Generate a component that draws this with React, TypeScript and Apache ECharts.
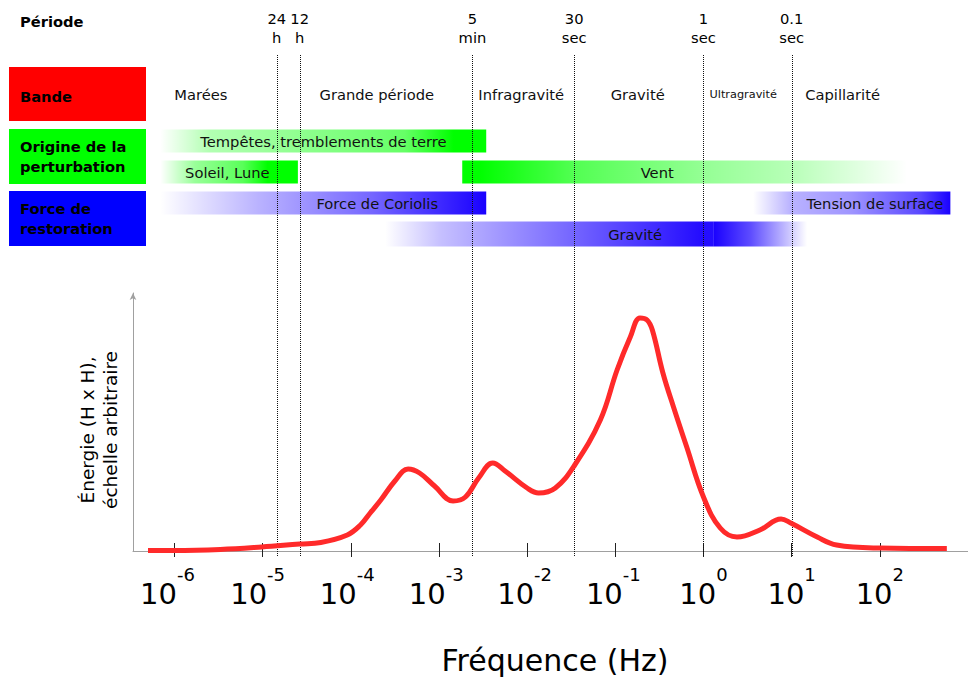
import React, { useEffect, useRef } from "react";
import * as echarts from "echarts";

const FONT = "DejaVu Sans";
const FS = 14.7;

// ---------- data (frequency given as log10 of Hz) ----------
const freqLog = [-6.30, -6.01, -5.48, -5.01, -4.58, -4.34, -4.04, -3.89, -3.78, -3.66, -3.50, -3.35, -3.22, -3.05, -2.84, -2.70, -2.55, -2.39, -2.25, -2.00, -1.87, -1.68, -1.46, -1.17, -0.98, -0.83, -0.72, -0.64, -0.58, -0.46, -0.34, -0.19, 0, 0.19, 0.38, 0.64, 0.88, 0.99, 1.29, 1.51, 2.0, 2.76];
const energy = [0.5, 0.5, 1.5, 4, 7, 8.5, 16, 26, 38, 51, 70, 82, 78, 65, 50, 54, 73, 88, 80, 63, 58, 63, 86, 131, 181, 214, 233, 231, 221, 178, 144, 104, 54, 23, 14, 21, 32, 28, 14, 6, 3, 2.5];

const xTickExponents = [-6, -5, -4, -3, -2, -1, 0, 1, 2];

const periodLabels = ["24\nh", "12\nh", "5\nmin", "30\nsec", "1\nsec", "0.1\nsec"];
const periodLog = [-4.84, -4.58, -2.62, -1.466, 0, 1.0];

const bandNames = ["Marées", "Grande période", "Infragravité", "Gravité", "Ultragravité", "Capillarité"];
const bandCenterLog = [-5.70, -3.705, -2.067, -0.746, 0.45, 1.578];

const barNames = ["Tempêtes, tremblements de terre", "Soleil, Lune", "Vent", "Force de Coriolis", "Tension de surface", "Gravité", ""];
const barStartLog = [-6.16, -6.16, -2.736, -6.16, 0.563, -3.61, 0.11];
const barEndLog = [-2.464, -4.60, 2.31, -2.464, 2.80, 0.11, 1.175];
const barRow = [1, 2, 2, 3, 3, 4, 4];
const barLabelLog = [-4.31, -5.40, -0.525, -3.70, 1.945, -0.775, 0];

const sectionTitles = ["Bande", "Origine de la\nperturbation", "Force de\nrestoration"];

const xName = "Fréquence (Hz)";
const yName = "Énergie (H x H),\néchelle arbitraire";

// ---------- styles ----------
const X_MIN = -6.47;
const X_MAX = 3;
// leftward nudge (px) of each tick label, as in the original drawing
const tickLabelNudge = [7, 5, 3.5, 2.7, 2.5, 2, 0, 0, 0];
const GREEN = "0,255,0";
const BLUE = "25,0,255";
const barStyles = [
  { rgb: GREEN, stops: [[0, 0], [0.15, 0.3], [0.45, 0.45], [0.75, 0.6], [0.9, 1], [1, 1]] },
  { rgb: GREEN, stops: [[0, 0], [0.25, 0.4], [0.6, 0.65], [0.78, 1], [1, 1]] },
  { rgb: GREEN, stops: [[0, 1], [0.04, 1], [0.25, 0.68], [0.54, 0.42], [0.74, 0.28], [0.89, 0.12], [1, 0]] },
  { rgb: BLUE, stops: [[0, 0], [0.3, 0.3], [0.65, 0.6], [1, 1]] },
  { rgb: BLUE, stops: [[0, 0], [0.19, 0.3], [0.5, 0.42], [0.85, 0.72], [1, 1]] },
  { rgb: BLUE, stops: [[0, 0], [0.17, 0.25], [0.57, 0.6], [0.96, 0.95], [1, 0.95]] },
  { rgb: BLUE, stops: [[0, 1], [0.4, 0.7], [1, 0]] },
];
const sectionColors = ["#ff0000", "#00ff00", "#0000ff"];
const sectionBoxes = [
  { y: 67, h: 54, ty: 96 },
  { y: 129, h: 55, ty: 156.5 },
  { y: 191, h: 55, ty: 218.5 },
];

function textStyle(extra: any) {
  return Object.assign(
    { fontFamily: FONT, fill: "#000", align: "center", verticalAlign: "middle", textAlign: "center", textVerticalAlign: "middle" },
    extra
  );
}

export default function App() {
  const ref = useRef<HTMLDivElement>(null);
  useEffect(() => {
    const chart = echarts.init(ref.current as HTMLDivElement, null, { renderer: "svg" });

    const rich: any = {
      b: { fontSize: 29, fontFamily: FONT, color: "#000", padding: [14, 0, 0, 0] },
      s: { fontSize: 18, fontFamily: FONT, color: "#000", verticalAlign: "top" },
    };
    xTickExponents.forEach((e, i) => {
      rich["g" + i] = { width: Math.max(0.01, 2 * tickLabelNudge[i]), fontSize: 1, verticalAlign: "top" };
    });

    const option: any = {
      animation: false,
      backgroundColor: "#ffffff",
      grid: [
        { left: 133, right: 0, top: 293, bottom: 126, outerBoundsMode: "none" },
        { left: 133, right: 0, top: 63.5, height: 186, outerBoundsMode: "none" },
      ],
      xAxis: [
        {
          type: "value",
          gridIndex: 0,
          min: X_MIN,
          max: X_MAX,
          position: "bottom",
          axisLine: { show: true, onZero: false, lineStyle: { color: "#a0a0a0", width: 1 } },
          axisTick: { show: true, customValues: xTickExponents, length: 6, lineStyle: { color: "#222", width: 1 } },
          axisLabel: {
            show: true,
            customValues: xTickExponents,
            margin: 14,
            formatter: (v: number) => {
              const i = xTickExponents.indexOf(Math.round(v));
              return tickLabelNudge[i] > 0 ? `{b|10}{s|${v}}{g${i}| }` : `{b|10}{s|${v}}`;
            },
            rich,
          },
          splitLine: { show: false },
          name: xName,
          nameLocation: "middle",
          nameGap: 94,
          nameMoveOverlap: false,
          nameTextStyle: { fontSize: 30, fontFamily: FONT, color: "#000", padding: [0, 0, 0, 9] },
        },
        {
          type: "value",
          gridIndex: 0,
          min: X_MIN,
          max: X_MAX,
          position: "bottom",
          axisLine: { show: false, onZero: false },
          axisTick: { show: true, inside: true, customValues: xTickExponents, length: 8, lineStyle: { color: "#222", width: 1 } },
          axisLabel: { show: false },
          splitLine: { show: false },
        },
        {
          type: "value",
          gridIndex: 1,
          min: X_MIN,
          max: X_MAX,
          show: false,
        },
      ],
      yAxis: [
        {
          type: "value",
          gridIndex: 0,
          min: 0,
          max: 258,
          position: "left",
          axisLine: { show: true, onZero: false, symbol: ["none", "arrow"], symbolSize: [5, 7], lineStyle: { color: "#a0a0a0", width: 1 } },
          axisTick: { show: false },
          axisLabel: { show: false },
          splitLine: { show: false },
          name: yName,
          nameLocation: "middle",
          nameGap: 11,
          nameMoveOverlap: false,
          nameTextStyle: { fontSize: 18.5, fontFamily: FONT, color: "#000", lineHeight: 23, padding: [0, 16, 0, 0] },
        },
        {
          type: "value",
          gridIndex: 1,
          min: -1.5,
          max: 4.5,
          inverse: true,
          show: false,
        },
      ],
      series: [
        {
          type: "custom",
          name: "bars",
          xAxisIndex: 2,
          yAxisIndex: 1,
          z: 2,
          encode: { x: [0, 1], y: 2 },
          data: barNames.map((_, i) => [barStartLog[i], barEndLog[i], barRow[i]]),
          renderItem: (params: any, api: any) => {
            const i = params.dataIndex;
            const row = api.value(2);
            const a = api.coord([api.value(0), row]);
            const b = api.coord([api.value(1), row]);
            const h = api.size([0, row === 4 ? 0.8 : 0.74])[1];
            const st = barStyles[i];
            const children: any[] = [
              {
                type: "rect",
                shape: { x: a[0], y: a[1] - h / 2, width: b[0] - a[0], height: h },
                style: {
                  fill: new echarts.graphic.LinearGradient(
                    0, 0, 1, 0,
                    st.stops.map(([o, al]) => ({ offset: o, color: `rgba(${st.rgb},${al})` }))
                  ),
                },
              },
            ];
            if (barNames[i]) {
              const c = api.coord([barLabelLog[i], row]);
              children.push({ type: "text", x: c[0], y: c[1], style: textStyle({ text: barNames[i], fontSize: FS, fill: "#111" }) });
            }
            return { type: "group", children };
          },
        },
        {
          type: "custom",
          name: "bands",
          xAxisIndex: 2,
          yAxisIndex: 1,
          z: 3,
          data: bandCenterLog.map((v) => [v, -0.5]),
          renderItem: (params: any, api: any) => {
            const i = params.dataIndex;
            const c = api.coord([api.value(0), api.value(1)]);
            const size = bandNames[i] === "Ultragravité" ? 11.3 : FS;
            return { type: "text", x: c[0], y: c[1], style: textStyle({ text: bandNames[i], fontSize: size, fill: "#111" }) };
          },
        },
        {
          type: "custom",
          name: "periods",
          xAxisIndex: 2,
          yAxisIndex: 1,
          z: 5,
          clip: false,
          data: periodLog.map((v) => [v, 0]),
          renderItem: (params: any, api: any) => {
            const i = params.dataIndex;
            const p = api.coord([api.value(0), 0]);
            const x = Math.round(p[0]) + 0.5;
            return {
              type: "group",
              children: [
                { type: "line", shape: { x1: x, y1: 55, x2: x, y2: 557 }, style: { stroke: "#111", lineWidth: 1, lineDash: [1, 1] } },
                {
                  type: "text",
                  x: p[0],
                  y: 8.5,
                  style: textStyle({ text: periodLabels[i], fontSize: FS, lineHeight: 19, verticalAlign: "top", textVerticalAlign: "top" }),
                },
              ],
            };
          },
        },
        {
          type: "line",
          name: "Énergie",
          xAxisIndex: 0,
          yAxisIndex: 0,
          z: 6,
          data: freqLog.map((x, i) => [x, energy[i]]),
          showSymbol: false,
          symbol: "none",
          smooth: 0.4,
          lineStyle: { color: "#ff2a2a", width: 5 },
        },
      ],
      graphic: [
        {
          type: "text",
          left: 20,
          top: 14,
          style: { text: "Période", fontFamily: FONT, fontWeight: "bold", fontSize: FS, fill: "#000" },
        },
        ...sectionTitles.map((t, i) => ({
          type: "group",
          children: [
            { type: "rect", shape: { x: 9, y: sectionBoxes[i].y, width: 137, height: sectionBoxes[i].h }, style: { fill: sectionColors[i] } },
            {
              type: "text",
              x: 20,
              y: sectionBoxes[i].ty,
              style: {
                text: t,
                fontFamily: FONT,
                fontWeight: "bold",
                fontSize: FS,
                lineHeight: 20,
                fill: "#000",
                align: "left",
                verticalAlign: "middle",
                textAlign: "left",
                textVerticalAlign: "middle",
              },
            },
          ],
        })),
      ],
    };

    chart.setOption(option);
    return () => chart.dispose();
  }, []);

  return (
    <div
      ref={ref}
      style={{ position: "fixed", left: 0, top: 0, width: 968, height: 677, background: "#fff" }}
    />
  );
}
